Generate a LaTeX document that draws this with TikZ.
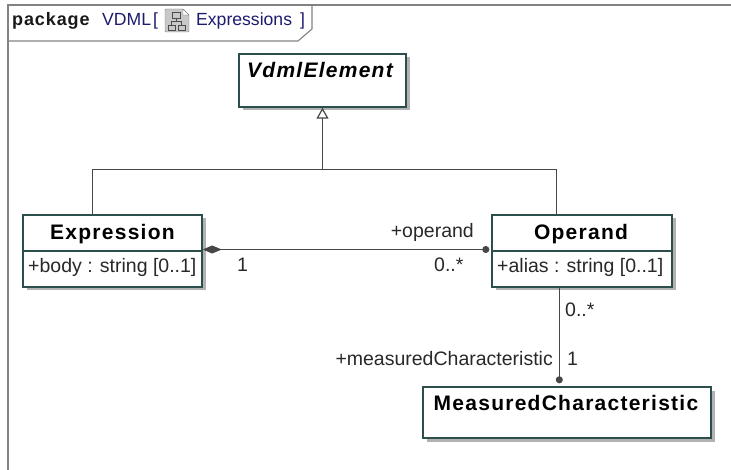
\documentclass[tikz,border=0pt]{standalone}
\usepackage{fontspec}
\setmainfont{Liberation Sans}
\newfontfamily\clsfont[LetterSpace=6]{Liberation Sans}
\newfontfamily\pkgfont[LetterSpace=5]{Liberation Sans}
\usepackage{xcolor}
\usetikzlibrary{positioning,calc,shadows,arrows.meta}

\definecolor{clsline}{RGB}{44,78,76}
\definecolor{wiregray}{RGB}{70,70,70}
\definecolor{framegray}{RGB}{130,130,130}
\definecolor{pkgblue}{RGB}{28,28,110}
\definecolor{txtgray}{RGB}{40,40,40}
\definecolor{icongray}{RGB}{200,200,200}

\tikzset{
  cls/.style={draw=clsline, line width=1.4pt, fill=white, inner sep=0pt,
    drop shadow={shadow xshift=3.5pt, shadow yshift=-3.5pt, fill=black!30, opacity=1}},
  clsname/.style={inner sep=0pt, anchor=base, font=\clsfont\bfseries\fontsize{21}{25}\selectfont},
  absname/.style={inner sep=0pt, anchor=base, font=\clsfont\bfseries\itshape\fontsize{21}{25}\selectfont},
  attr/.style={inner sep=0pt, anchor=base west, text=txtgray, font=\fontsize{19.5}{23}\selectfont},
  role/.style={inner sep=0pt, text=txtgray, font=\fontsize{19.5}{23}\selectfont},
  hdr/.style={inner sep=0pt, anchor=base west, text=pkgblue, font=\fontsize{17.6}{21}\selectfont},
  wireline/.style={draw=wiregray, line width=1.2pt},
}

\begin{document}
\begin{tikzpicture}[x=1pt, y=-1pt]
    \useasboundingbox (0,0) rectangle (731,470);
    % package frame and tab
    \draw[framegray, line width=2pt] (8,470) -- (8,5) -- (731,5);
    \draw[framegray, line width=1.1pt] (8,41) -- (298,41) -- (312,29) -- (312,5);
    \node[hdr, text=black!90, font=\pkgfont\bfseries\fontsize{18}{21}\selectfont] (pkg) at (12,26) {package};
    \node[hdr] (pkgname) at (102,26) {VDML};
    \node[hdr] (lbr) at (153,26) {[};
    \node[hdr] (diagname) at (196,26) {Expressions};
    \node[hdr] (rbr) at (300,26) {]};
    % diagram icon
    \draw[gray, fill=icongray, rounded corners=1pt] (165,9) -- (183,9) -- (189,15) -- (189,32) -- (165,32) -- cycle;
    \draw[gray, fill=white] (183,9) -- (183,15) -- (189,15) -- cycle;
    \draw[black!70, line width=0.8pt] (172,12) rectangle (180,18) (168,25) rectangle (175,30) (178,25) rectangle (185,30);
    \draw[black!70, line width=0.8pt] (176,18) -- (176,21.5) (171.5,25) -- (171.5,21.5) -- (181.5,21.5) -- (181.5,25);

    % classes
    \node[cls, minimum width=167pt, minimum height=53pt] (vdml) at (322.5,80.5) {};
    \node[absname] (vdmlname) at (320,78) {VdmlElement};

    \node[cls, minimum width=179pt, minimum height=72pt] (expr) at (112.5,251) {};
    \draw[clsline, line width=1.4pt] (expr.west) -- (expr.east);
    \node[clsname] (exprname) at (112.5,240) {Expression};
    \node[attr] (exprattr) at (28,273) {+body : string [0..1]};

    \node[cls, minimum width=180pt, minimum height=72pt] (oper) at (582,251) {};
    \draw[clsline, line width=1.4pt] (oper.west) -- (oper.east);
    \node[clsname] (opername) at (581,240) {Operand};
    \node[attr] (operattr) at (497,273) {+alias : string [0..1]};

    \node[cls, minimum width=288pt, minimum height=51pt] (meas) at (567,412.5) {};
    \node[clsname] (measname) at (566,410) {MeasuredCharacteristic};

    % generalization
    \coordinate (gen) at ($(vdml.south)+(0,62)$);
    \draw[wireline] ([xshift=70pt]expr.north west) |- (gen) -| ([xshift=65pt]oper.north west);
    \draw[wireline, -{Triangle[open, width=12pt, length=11pt]}] (gen) -- (vdml.south);

    % associations
    \draw[wireline, {Diamond[width=8pt, length=19pt]}-{Circle[length=7pt]}, shorten >=2pt] ([yshift=1.5pt]expr.east) -- ([yshift=1.5pt]oper.west);
    \draw[wireline, -{Circle[length=7pt]}, shorten >=3pt] ([xshift=68pt]oper.south west) -- ([xshift=137pt]meas.north west);

    \node[role, anchor=base west] (exprmult) at (237,272) {1};
    \node[role, anchor=base east] (operrole) at (474,238) {+operand};
    \node[role, anchor=base west] (opermult) at (434,272) {0..*};
    \node[role, anchor=base west] (measmulttop) at (565,317) {0..*};
    \node[role, anchor=base east] (measrole) at (553,366) {+measuredCharacteristic};
    \node[role, anchor=base west] (measmult) at (567,366) {1};
\end{tikzpicture}
\end{document}
